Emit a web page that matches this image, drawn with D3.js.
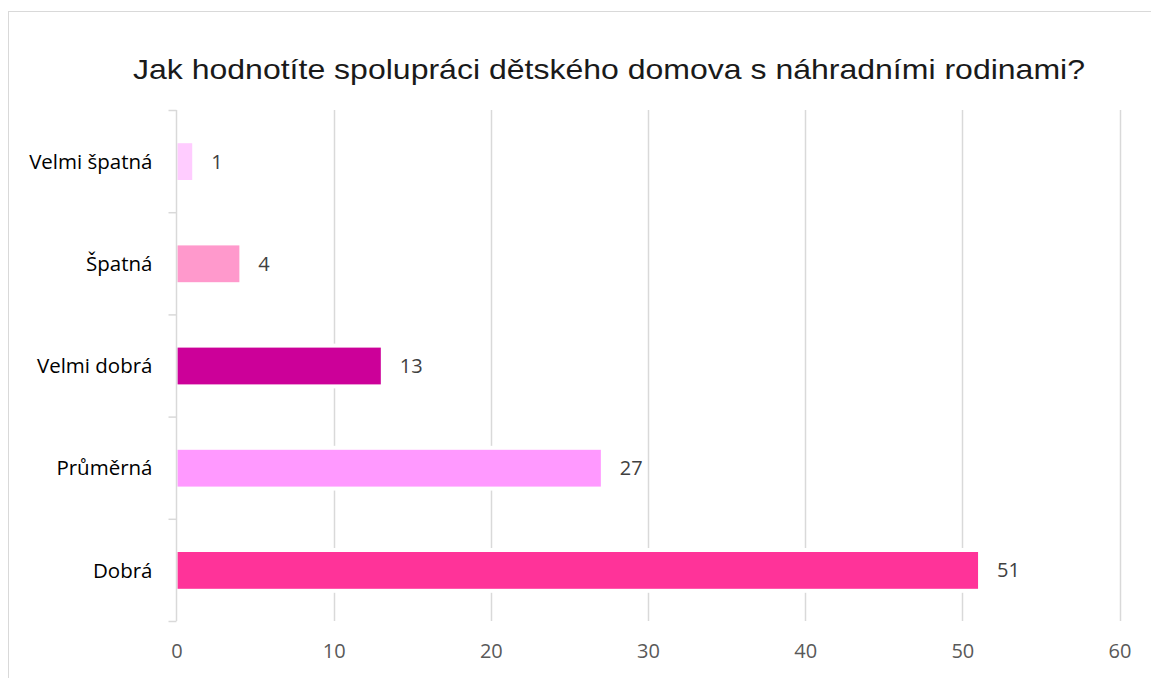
<!DOCTYPE html>
<html><head><meta charset="utf-8">
<script src="https://cdn.jsdelivr.net/npm/d3@7"></script>
<style>body{margin:0;background:#fff}svg{display:block}</style>
</head><body>
<script>
const categories = ["Velmi špatná", "Špatná", "Velmi dobrá", "Průměrná", "Dobrá"];
const values = [1, 4, 13, 27, 51];
const colors = ["#ffccff", "#ff99cc", "#cc0099", "#ff99ff", "#ff3399"];
const xTicks = [0, 10, 20, 30, 40, 50, 60];
const title = "Jak hodnotíte spolupráci dětského domova s náhradními rodinami?";

const W = 1151, H = 678;
const FONT = "Open Sans, sans-serif";
const svg = d3.select("body").append("svg").attr("width", W).attr("height", H);

// chart frame
svg.append("rect").attr("x", 8.5).attr("y", 11.5).attr("width", 1160).attr("height", 700)
  .attr("fill", "#fff").attr("stroke", "#d9d9d9").attr("stroke-width", 1);

svg.append("text").attr("x", 133).attr("y", 79)
  .attr("font-family", "Liberation Sans, Arial, sans-serif").attr("font-size", 28)
  .attr("textLength", 952).attr("lengthAdjust", "spacingAndGlyphs")
  .attr("fill", "#1a1a1a").text(title);

const x = d3.scaleLinear().domain([0, 60]).range([176.5, 1119.5]);
const y = d3.scaleBand().domain(categories).range([110.5, 621.5]).paddingInner(0.64).paddingOuter(0.32);

// gridlines
svg.append("g").selectAll("line").data(xTicks.slice(1)).join("line")
  .attr("x1", d => Math.round(x(d)) + 0.5).attr("x2", d => Math.round(x(d)) + 0.5)
  .attr("y1", 110).attr("y2", 621).attr("stroke", "#d9d9d9").attr("stroke-width", 1.5);

// white halos behind bars
svg.append("g").selectAll("rect").data(values).join("rect")
  .attr("x", x(0) + 1).attr("y", (d, i) => y(categories[i]) - 4)
  .attr("width", d => x(d) - x(0) + 4).attr("height", y.bandwidth() + 8).attr("fill", "#fff");

// bars
svg.append("g").selectAll("rect").data(values).join("rect")
  .attr("x", x(0) + 1).attr("y", (d, i) => y(categories[i]))
  .attr("width", d => x(d) - x(0) - 1).attr("height", y.bandwidth())
  .attr("fill", (d, i) => colors[i]);

// category axis
const yAxis = svg.append("g").attr("transform", `translate(${x(0)},0)`)
  .call(d3.axisLeft(y).tickSize(0).tickPadding(24));
yAxis.select(".domain").remove();
yAxis.append("line").attr("x1", 0).attr("x2", 0).attr("y1", 110).attr("y2", 621)
  .attr("stroke", "#d9d9d9").attr("stroke-width", 1.5);
const bounds = d3.range(categories.length + 1).map(i => 110.5 + i * (511 / categories.length));
yAxis.selectAll(".bt").data(bounds).join("line").attr("class", "bt")
  .attr("x1", -8).attr("x2", 0).attr("y1", d => d).attr("y2", d => d)
  .attr("stroke", "#d9d9d9").attr("stroke-width", 1.5);
yAxis.selectAll(".tick text").attr("font-family", FONT)
  .attr("font-size", 20.5).attr("fill", "#000").attr("dy", "0.35em");

// value axis labels
const xAxis = svg.append("g").attr("transform", "translate(0,621)")
  .call(d3.axisBottom(x).tickValues(xTicks).tickSize(0).tickPadding(23));
xAxis.select(".domain").remove();
xAxis.selectAll(".tick text").attr("font-family", FONT)
  .attr("font-size", 20).attr("fill", "#595959");

// value labels
svg.append("g").selectAll("text").data(values).join("text")
  .attr("x", d => x(d) + 19).attr("y", (d, i) => y(categories[i]) + y.bandwidth() / 2)
  .attr("dy", "0.35em").attr("font-family", FONT)
  .attr("font-size", 20).attr("fill", "#404040").text(d => d);
</script>
</body></html>
